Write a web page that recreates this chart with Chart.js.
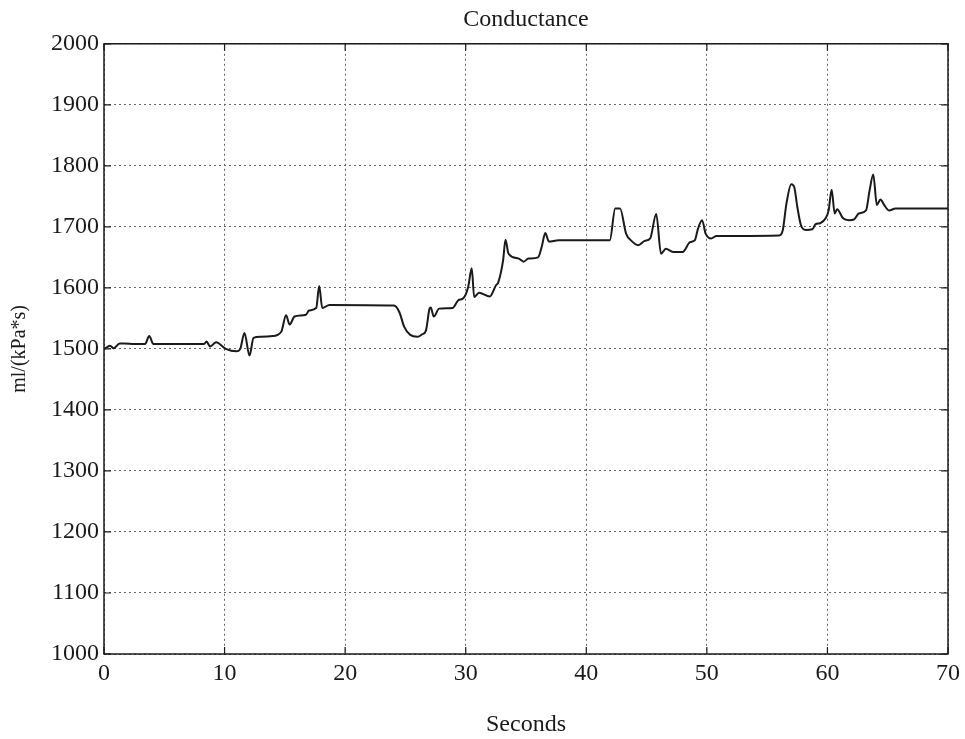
<!DOCTYPE html>
<html>
<head>
<meta charset="utf-8">
<title>Conductance</title>
<script src="https://cdn.jsdelivr.net/npm/chart.js@4.4.1/dist/chart.umd.min.js"></script>
<style>
  html, body { margin: 0; padding: 0; background: #fff; }
  #wrap { width: 965px; height: 739px; }
</style>
</head>
<body>
<div id="wrap"><canvas id="myChart" width="965" height="739"></canvas></div>
<script>
// conductance trace, seconds vs ml/(kPa*s)
const seconds = [
  0, 0.2, 0.5, 0.8, 1.3, 1.7, 2.5, 3.4, 3.75, 4.1,
  8.3, 8.5, 8.8, 9.3, 10.1, 11.0, 11.3, 11.65, 12.07, 12.4,
  13.0, 14.0, 14.7, 15.1, 15.4, 15.8, 16.75, 17.0, 17.6, 17.85,
  18.1, 18.7, 24.05, 24.5, 24.9, 25.4, 26.0, 26.4, 26.7, 27.0,
  27.1, 27.35, 27.8, 28.9, 29.4, 29.8, 30.2, 30.5, 30.7, 31.1,
  32.0, 32.5, 32.7, 33.1, 33.3, 33.55, 34.4, 34.8, 35.2, 36.0,
  36.3, 36.6, 36.9, 37.7, 41.95, 42.4, 42.8, 43.3, 43.75, 44.3,
  44.85, 45.3, 45.8, 46.2, 46.6, 47.2, 48.0, 48.6, 49.0, 49.25,
  49.6, 49.9, 50.35, 50.8, 56.0, 56.3, 56.6, 57.0, 57.25, 57.5,
  57.8, 58.2, 58.75, 59.0, 59.4, 59.85, 60.1, 60.35, 60.6, 60.8,
  61.3, 61.8, 62.2, 62.6, 63.2, 63.5, 63.8, 64.1, 64.4, 64.7,
  65.1, 65.65, 70
];
const conductance = [
  1500, 1502, 1505, 1501, 1509, 1509, 1508, 1508, 1521, 1508,
  1508, 1512, 1504, 1511, 1500, 1496, 1500, 1526, 1489, 1518,
  1520, 1521, 1528, 1555, 1540, 1553, 1556, 1563, 1567, 1603,
  1567, 1572, 1571, 1560, 1536, 1523, 1520, 1524, 1530, 1566,
  1568, 1553, 1566, 1567, 1580, 1583, 1601, 1632, 1585, 1592,
  1586, 1604, 1609, 1645, 1679, 1656, 1648, 1643, 1648, 1650,
  1667, 1690, 1676, 1678, 1678, 1730, 1730, 1689, 1677, 1670,
  1677, 1681, 1721, 1656, 1664, 1659, 1659, 1675, 1678, 1696,
  1711, 1689, 1681, 1685, 1686, 1695, 1738, 1770, 1765, 1733,
  1703, 1695, 1696, 1704, 1706, 1714, 1727, 1761, 1722, 1729,
  1714, 1711, 1712, 1722, 1727, 1760, 1786, 1736, 1745, 1736,
  1727, 1730, 1730
];
const xTicks = [0, 10, 20, 30, 40, 50, 60, 70];
const yTicks = [1000, 1100, 1200, 1300, 1400, 1500, 1600, 1700, 1800, 1900, 2000];

const serif = "'Liberation Serif', 'DejaVu Serif', serif";
const ink = '#1a1a1a';

// solid frame round the plot with short inward tick marks on all four sides
const frame = {
  id: 'frame',
  afterDatasetsDraw(chart) {
    const { ctx, chartArea: a, scales } = chart;
    ctx.save();
    ctx.strokeStyle = ink;
    ctx.lineWidth = 1.5;
    ctx.setLineDash([]);
    ctx.strokeRect(a.left, a.top, a.right - a.left, a.bottom - a.top);
    ctx.lineWidth = 1.2;
    ctx.beginPath();
    xTicks.forEach(v => {
      const px = scales.x.getPixelForValue(v);
      ctx.moveTo(px, a.bottom); ctx.lineTo(px, a.bottom - 7);
      ctx.moveTo(px, a.top); ctx.lineTo(px, a.top + 7);
    });
    yTicks.forEach(v => {
      const py = scales.y.getPixelForValue(v);
      ctx.moveTo(a.left, py); ctx.lineTo(a.left + 7, py);
      ctx.moveTo(a.right, py); ctx.lineTo(a.right - 7, py);
    });
    ctx.stroke();
    ctx.restore();
  }
};

const plain = v => String(v);

const ctx = document.getElementById('myChart').getContext('2d');
const myChart = new Chart(ctx, {
  type: 'line',
  data: {
    datasets: [{
      label: 'Conductance',
      data: seconds.map((s, i) => ({ x: s, y: conductance[i] })),
      borderColor: ink,
      borderWidth: 2,
      pointRadius: 0,
      fill: false,
      cubicInterpolationMode: 'monotone'
    }]
  },
  options: {
    responsive: false,
    animation: false,
    layout: { padding: { right: 14 } },
    scales: {
      x: {
        type: 'linear',
        min: 0,
        max: 70,
        afterFit: s => { s.height = 85; },
        afterBuildTicks: s => { s.ticks = xTicks.map(v => ({ value: v })); },
        ticks: { color: ink, padding: 5, maxRotation: 0, callback: plain, font: { family: serif, size: 24 } },
        grid: { color: '#666', lineWidth: 1, drawTicks: false },
        border: { display: false, dash: [2, 3] },
        title: {
          display: true,
          text: 'Seconds',
          color: ink,
          font: { family: serif, size: 24 },
          padding: { top: 0, bottom: 0 }
        }
      },
      y: {
        min: 1000,
        max: 2000,
        afterFit: s => { s.width = 104; },
        afterBuildTicks: s => { s.ticks = yTicks.map(v => ({ value: v })); },
        ticks: { color: ink, padding: 5, callback: plain, font: { family: serif, size: 24 } },
        grid: { color: '#666', lineWidth: 1, drawTicks: false },
        border: { display: false, dash: [2, 3] },
        title: {
          display: true,
          text: 'ml/(kPa*s)',
          color: ink,
          font: { family: serif, size: 20 },
          padding: { top: 8, bottom: 0 }
        }
      }
    },
    plugins: {
      legend: { display: false },
      tooltip: { enabled: false },
      title: {
        display: true,
        text: 'Conductance',
        fullSize: false,
        color: ink,
        font: { family: serif, size: 24, weight: 'normal' },
        padding: { top: 5, bottom: 10 }
      }
    }
  },
  plugins: [frame]
});
</script>
</body>
</html>
